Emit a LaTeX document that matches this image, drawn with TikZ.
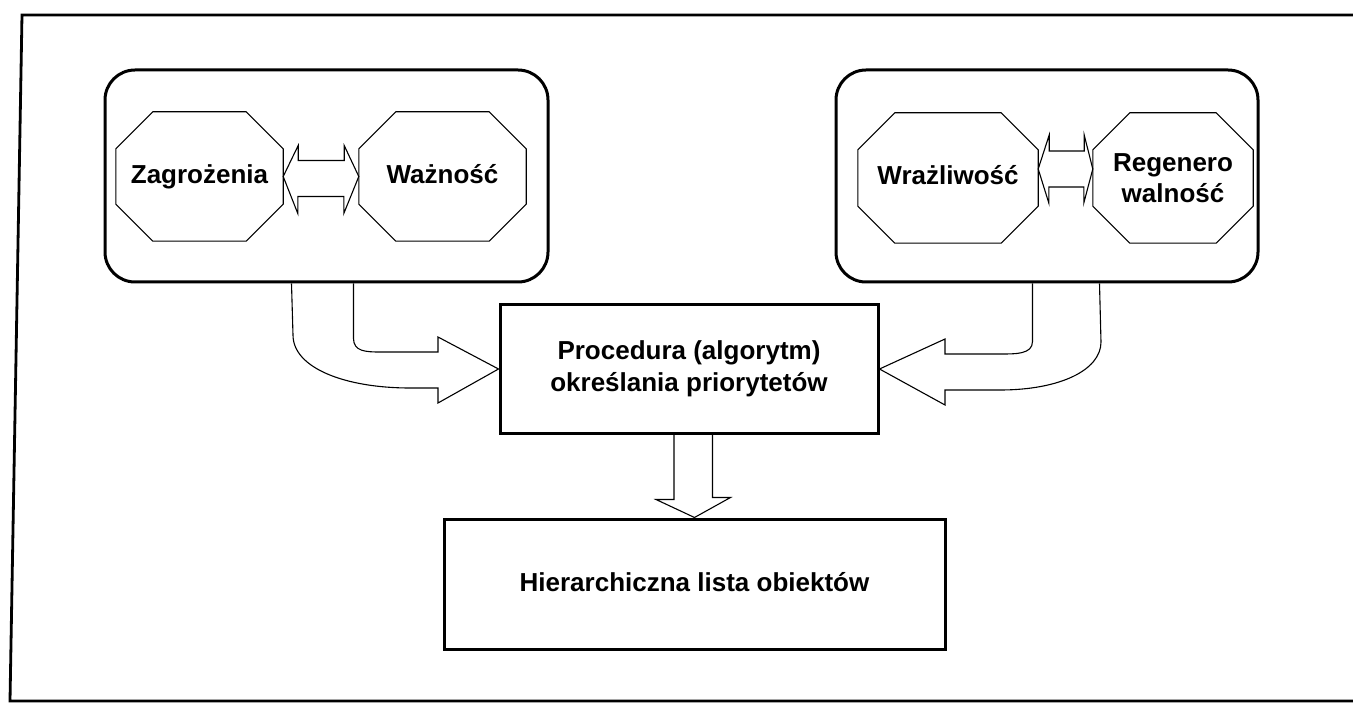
\documentclass[tikz,border=0pt]{standalone}
\usepackage{fontspec}
\setmainfont{Liberation Sans}
\usetikzlibrary{calc}
\begin{document}
\begin{tikzpicture}[x=1pt,y=-1pt,
  lbl/.style={font=\fontsize{26}{30}\selectfont\bfseries, align=center, inner sep=0pt},
  oneline/.style={text height=19pt, text depth=5pt},
  octbox/.style={lbl, minimum width=167pt, minimum height=129pt},
  thin line/.style={line width=1.1pt, line join=miter},
  heavy/.style={line width=3pt},
  groupbox/.style={draw, heavy, rounded corners=30pt},
  stepbox/.style={lbl, draw, heavy}]
\useasboundingbox (0,0) rectangle (1353,703);

% outer frame
\draw[line width=2.8pt, black] (1360,15) -- (22,15) -- (10,701) -- (1360,701);

% group frames
\node[groupbox, minimum width=443pt, minimum height=212pt] (gl) at (326.5,176) {};
\node[groupbox, minimum width=422pt, minimum height=212pt] (gr) at (1047,176) {};

% octagon labels
\node[octbox, oneline] (zag) at (199.5,176.5) {Zagrożenia};
\node[octbox, oneline] (waz) at (442.5,176.5) {Ważność};
\node[octbox, oneline, minimum width=180pt, minimum height=130pt] (wra) at (948,178) {Wrażliwość};
\node[octbox, minimum width=160pt, minimum height=130pt] (reg) at (1173,178) {Regenero\\[1pt]walność};

\foreach \n in {zag,waz,wra,reg}{
  \draw[thin line] ($(\n.north west)+(37,0)$) -- ($(\n.north east)+(-37,0)$)
    -- ($(\n.north east)+(0,37)$) -- ($(\n.south east)+(0,-37)$)
    -- ($(\n.south east)+(-37,0)$) -- ($(\n.south west)+(37,0)$)
    -- ($(\n.south west)+(0,-37)$) -- ($(\n.north west)+(0,37)$) -- cycle;
}

% two-headed links inside the groups
\draw[thin line] (zag.east) -- ++(15,-31) -- ++(0,15) -- ++(46,0) -- ++(0,-15)
  -- (waz.west) -- ++(-15,37) -- ++(0,-17) -- ++(-46,0) -- ++(0,17) -- cycle;
\draw[thin line] ($(wra.east)+(0,-9)$) -- ++(11,-34) -- ++(0,16) -- ++(35,0) -- ++(0,-16)
  -- ($(reg.west)+(0,-9)$) -- ++(-9,34) -- ++(0,-16) -- ++(-35,0) -- ++(0,16) -- cycle;

% procedure and result
\node[stepbox, minimum width=378pt, minimum height=128pt] (proc) at (689,369)
  {Procedura (algorytm)\\[2pt]określania priorytetów};
\node[stepbox, oneline, minimum width=501pt, minimum height=130pt] (list) at (694.5,584)
  {Hierarchiczna lista obiektów};

% curved hollow arrow from the left group
\draw[thin line] ($(gl.south west)+(250,0)$) -- ++(0,55)
  .. controls ++(0,13) and (366,352) .. (380,352) -- (438,352) -- (438,337)
  -- (proc.west) -- (438,403) -- (438,388) -- (410,388)
  .. controls (345,388) and (293,368) .. (293,335) -- ($(gl.south west)+(188,0)$);

% curved hollow arrow from the right group
\draw[thin line] ($(gr.south west)+(198,0)$) -- ++(0,58)
  .. controls ++(0,13) and (1015,354) .. (1000,354) -- (945,354) -- (945,339)
  -- (proc.east) -- (945,405) -- (945,390) -- (1000,390)
  .. controls (1060,390) and (1101,370) .. (1101,342) -- ($(gr.south west)+(265,0)$);

% hollow arrow down to the list
\draw[thin line] ($(proc.south)+(-15,0)$) -- ++(0,65) -- ++(-18,0)
  -- (list.north) -- ++(36,-20) -- ++(-18,0) -- ++(0,-65);
\end{tikzpicture}
\end{document}
